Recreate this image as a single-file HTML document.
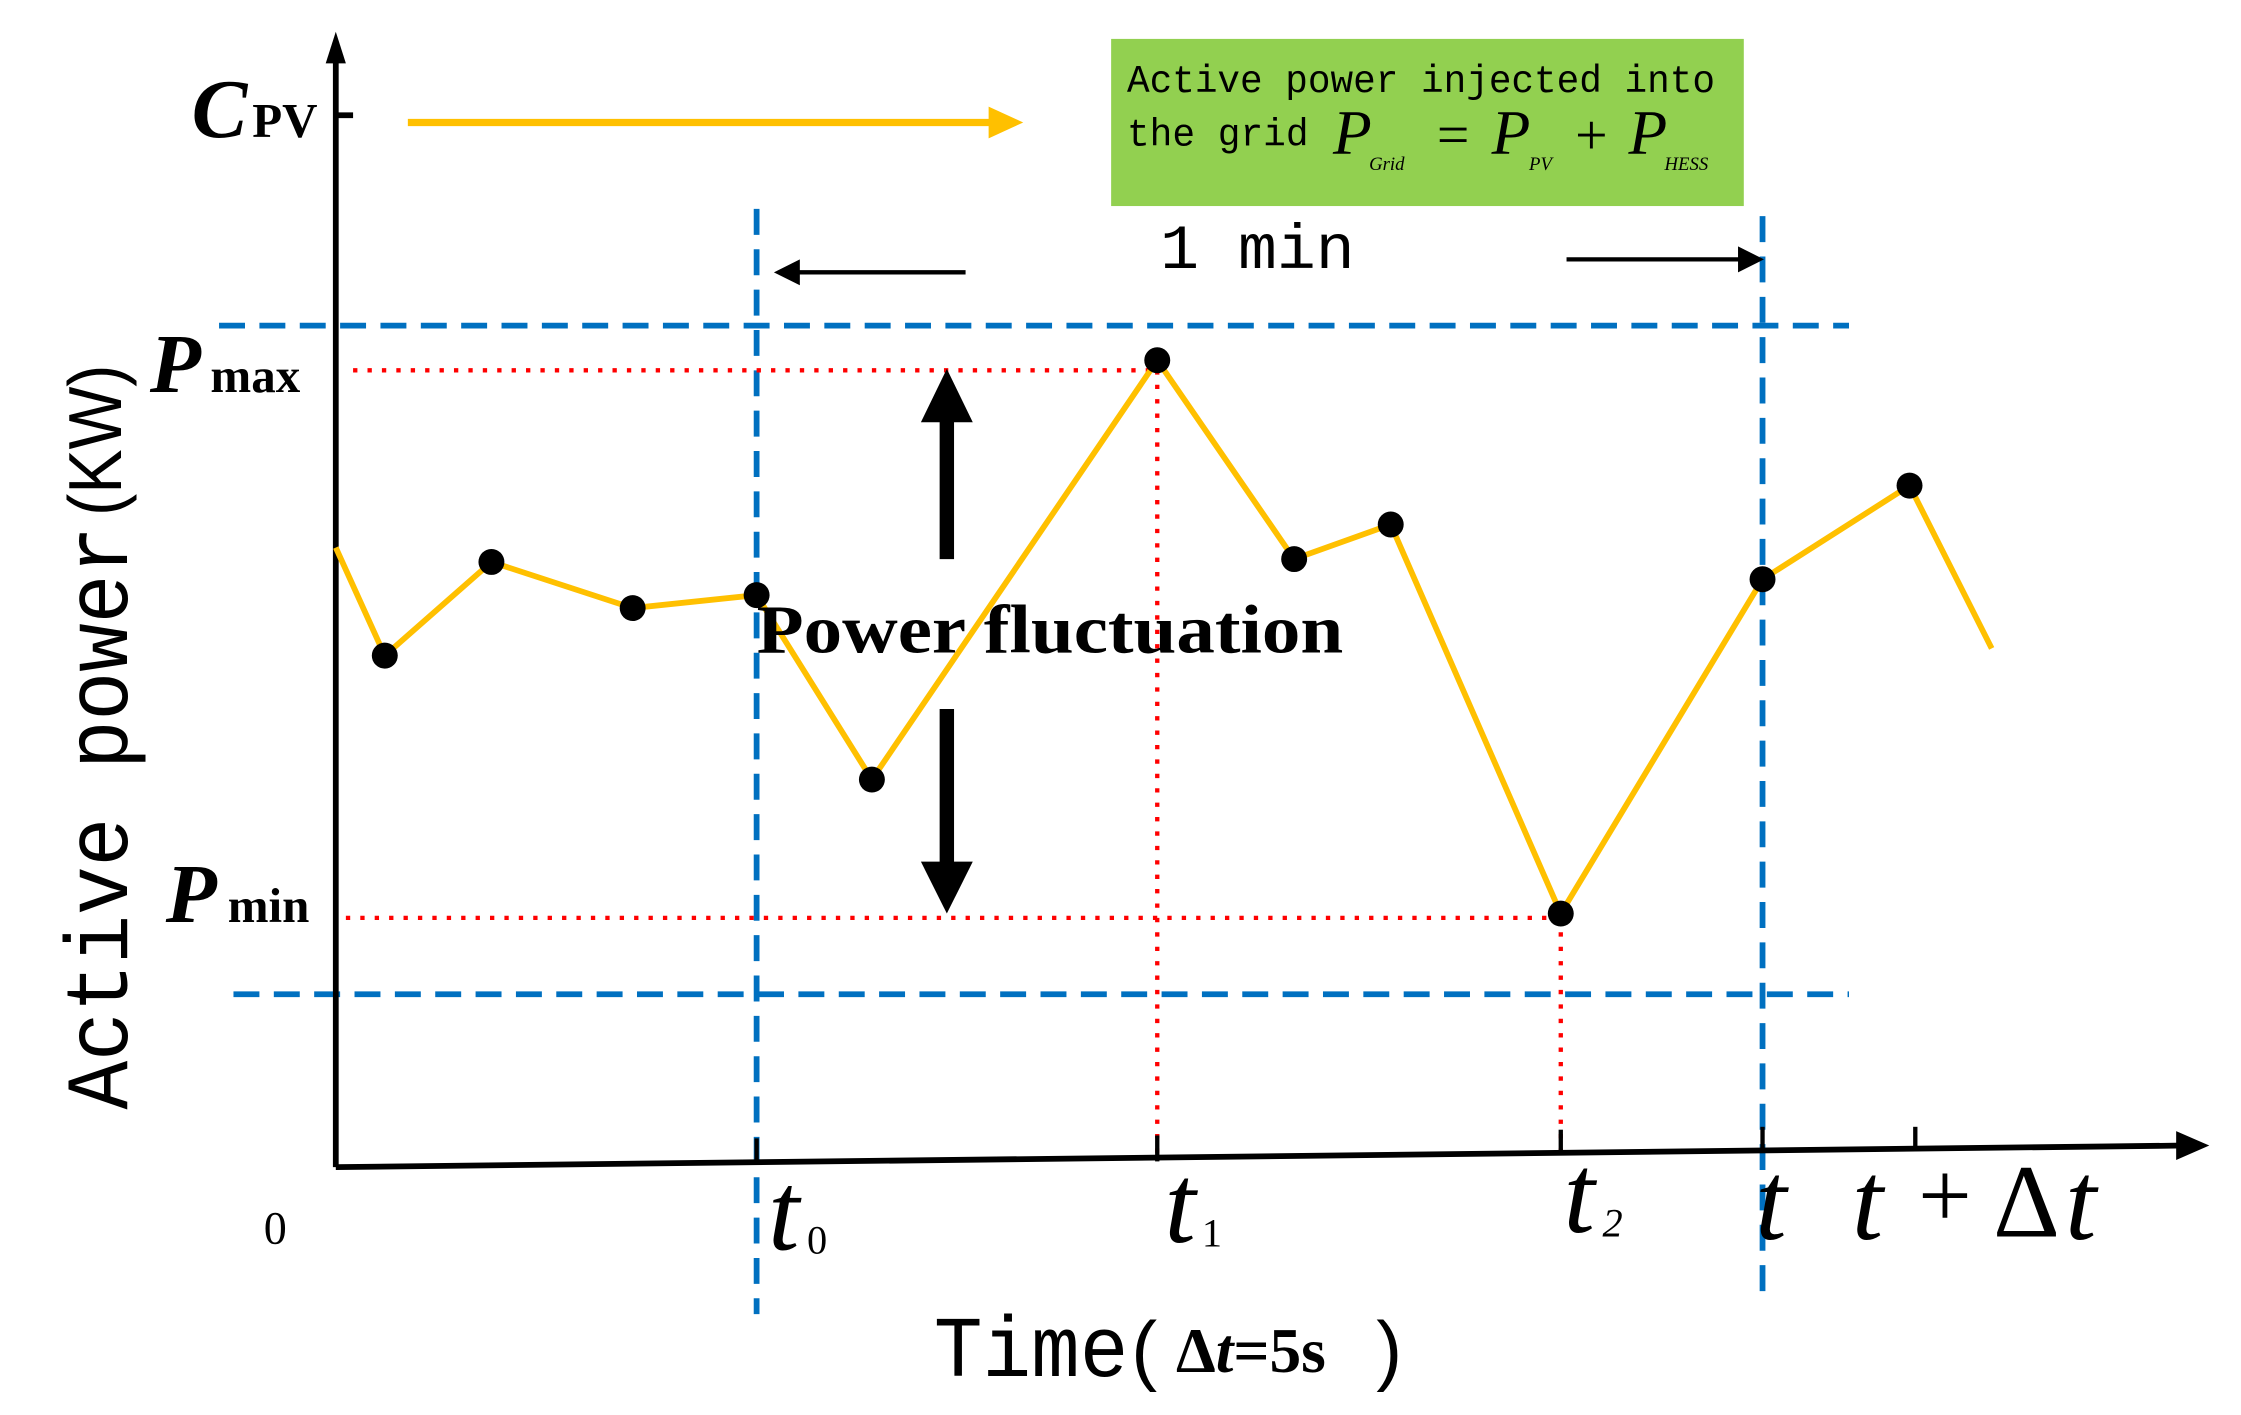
<!DOCTYPE html>
<html><head><meta charset="utf-8"><style>
html,body{margin:0;padding:0;background:#fff;}
svg{display:block;}
</style></head><body>
<svg width="2241" height="1415" viewBox="0 0 1555 982" preserveAspectRatio="none" xmlns="http://www.w3.org/2000/svg">
<!-- green box -->
<rect x="771" y="27" width="439" height="116" fill="#92d050"/>
<text x="782" y="64" font-family="Liberation Mono, monospace" font-size="27" textLength="408" lengthAdjust="spacingAndGlyphs">Active power injected into</text>
<text x="782" y="101" font-family="Liberation Mono, monospace" font-size="27" textLength="126" lengthAdjust="spacingAndGlyphs">the grid</text>
<g font-family="Liberation Serif, serif" font-style="italic">
<text x="925" y="107" font-size="44">P</text>
<text x="950" y="118" font-size="13">Grid</text>
<text x="997" y="107" font-size="40" font-style="normal">=</text>
<text x="1035" y="107" font-size="44">P</text>
<text x="1061" y="118" font-size="13">PV</text>
<text x="1093" y="107" font-size="40" font-style="normal">+</text>
<text x="1130" y="107" font-size="44">P</text>
<text x="1155" y="118" font-size="13">HESS</text>
</g>
<!-- blue dashed -->
<g stroke="#0070c0" stroke-width="4" stroke-dasharray="18,10" fill="none">
<line x1="152" y1="226" x2="1283" y2="226"/>
<line x1="162" y1="690" x2="1283" y2="690"/>
<line x1="525" y1="145" x2="525" y2="912"/>
<line x1="1223" y1="150" x2="1223" y2="905"/>
</g>
<!-- red dotted -->
<g stroke="#ff0000" stroke-width="3" stroke-dasharray="3,7" fill="none">
<line x1="245" y1="257" x2="803" y2="257"/>
<line x1="803" y1="257" x2="803" y2="805"/>
<line x1="240" y1="637" x2="1083" y2="637"/>
<line x1="1083" y1="637" x2="1083" y2="800"/>
</g>
<!-- axes -->
<line x1="233" y1="810" x2="233" y2="40" stroke="#000" stroke-width="4"/>
<path d="M233,22 L226,44 L240,44 Z" fill="#000"/>
<line x1="233" y1="810" x2="1515" y2="795" stroke="#000" stroke-width="4"/>
<path d="M1533,795 L1510,785 L1510,805 Z" fill="#000"/>
<line x1="233" y1="80" x2="245" y2="80" stroke="#000" stroke-width="4"/>
<g stroke="#000" stroke-width="3">
<line x1="525" y1="790" x2="525" y2="806"/>
<line x1="803" y1="788" x2="803" y2="806"/>
<line x1="1083" y1="784" x2="1083" y2="800"/>
<line x1="1223" y1="782" x2="1223" y2="798"/>
<line x1="1329" y1="782" x2="1329" y2="797"/>
</g>
<!-- orange arrow -->
<line x1="283" y1="85" x2="690" y2="85" stroke="#ffc000" stroke-width="5"/>
<path d="M710,85 L686,74 L686,96 Z" fill="#ffc000"/>
<!-- 1 min -->
<text x="805" y="186" font-family="Liberation Mono, monospace" font-size="44" textLength="135" lengthAdjust="spacingAndGlyphs">1 min</text>
<line x1="670" y1="189" x2="545" y2="189" stroke="#000" stroke-width="3"/>
<path d="M537,189 L555,180 L555,198 Z" fill="#000"/>
<line x1="1087" y1="180" x2="1212" y2="180" stroke="#000" stroke-width="3"/>
<path d="M1224,180 L1206,171 L1206,189 Z" fill="#000"/>
<!-- data -->
<polyline points="233,380 267,455 341,390 439,422 525,413 605,541 803,250 898,388 965,364 1083,634 1223,402 1325,337 1382,450" fill="none" stroke="#ffc000" stroke-width="4"/>
<g fill="#000">
<circle cx="267" cy="455" r="9"/><circle cx="341" cy="390" r="9"/><circle cx="439" cy="422" r="9"/><circle cx="525" cy="413" r="9"/><circle cx="605" cy="541" r="9"/><circle cx="803" cy="250" r="9"/><circle cx="898" cy="388" r="9"/><circle cx="965" cy="364" r="9"/><circle cx="1083" cy="634" r="9"/><circle cx="1223" cy="402" r="9"/><circle cx="1325" cy="337" r="9"/>
</g>
<!-- fluctuation arrows -->
<line x1="657" y1="388" x2="657" y2="290" stroke="#000" stroke-width="10"/>
<path d="M657,256 L639,293 L675,293 Z" fill="#000"/>
<line x1="657" y1="492" x2="657" y2="602" stroke="#000" stroke-width="10"/>
<path d="M657,634 L639,598 L675,598 Z" fill="#000"/>
<text x="525" y="453" font-family="Liberation Serif, serif" font-weight="bold" font-size="48" textLength="407" lengthAdjust="spacingAndGlyphs">Power fluctuation</text>
<!-- labels -->
<g font-family="Liberation Serif, serif" font-weight="bold">
<text x="133" y="95" font-size="58" font-style="italic">C</text><text x="175" y="95" font-size="34">PV</text>
<text x="104" y="272" font-size="58" font-style="italic">P</text><text x="146" y="272" font-size="34">max</text>
<text x="115" y="640" font-size="58" font-style="italic">P</text><text x="158" y="640" font-size="34">min</text>
</g>
<text x="183" y="863" font-family="Liberation Serif, serif" font-size="32">0</text>
<g font-family="Liberation Serif, serif" font-style="italic" font-size="78">
<text x="533" y="867">t</text><text x="808" y="862">t</text><text x="1085" y="855">t</text><text x="1218" y="860">t</text>
<text x="1285" y="860">t</text><text x="1433" y="860">t</text>
</g>
<g font-family="Liberation Serif, serif" font-size="28">
<text x="560" y="870">0</text><text x="834" y="865">1</text><text x="1112" y="858" font-style="italic">2</text>
</g>
<text x="1331" y="852" font-family="Liberation Serif, serif" font-size="66">+</text>
<text x="1383" y="858" font-family="Liberation Serif, serif" font-size="72">Δ</text>
<text x="648" y="955" font-family="Liberation Mono, monospace" font-size="60" textLength="135" lengthAdjust="spacingAndGlyphs">Time</text>
<text x="785" y="955" font-family="Liberation Sans, Noto Sans CJK SC, sans-serif" font-size="54">(</text>
<text x="816" y="952" font-family="Liberation Serif, serif" font-weight="bold" font-size="44">Δ<tspan font-style="italic">t</tspan>=5s</text>
<text x="955" y="955" font-family="Liberation Sans, Noto Sans CJK SC, sans-serif" font-size="54">)</text>
<g transform="translate(88,770) rotate(-90)">
<text x="0" y="0" font-family="Liberation Mono, monospace" font-size="62" textLength="405" lengthAdjust="spacingAndGlyphs">Active power</text>
<text x="412" y="-4" font-family="Liberation Sans, Noto Sans CJK SC, sans-serif" font-size="52" textLength="105" lengthAdjust="spacingAndGlyphs">(KW)</text>
</g>
</svg>
</body></html>
